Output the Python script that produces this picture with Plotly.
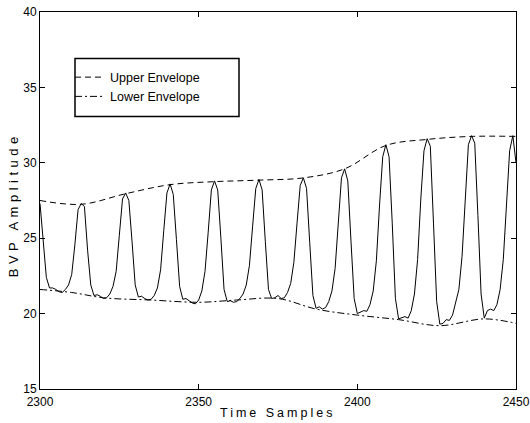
import plotly.graph_objects as go

# Sample indices and BVP signal values
samples = list(range(2300, 2451))
bvp = [
    27.3, 24.6, 22.4, 21.7, 21.7, 21.6, 21.45, 21.4, 21.6, 21.9,   # 2300-2309
    22.6, 24.6, 26.9, 27.3, 27.1, 24.2, 21.9, 21.2, 21.25, 21.15,  # 2310-2319
    21.0, 21.05, 21.3, 21.8, 22.8, 25.2, 27.6, 28.0, 27.5, 24.8,   # 2320-2329
    21.9, 21.1, 21.15, 21.0, 20.9, 20.95, 21.2, 21.7, 22.9, 25.5,  # 2330-2339
    28.0, 28.6, 27.9, 24.9, 21.8, 20.95, 21.0, 20.85, 20.7, 20.65, # 2340-2349
    20.9, 21.5, 22.8, 25.4, 28.2, 28.8, 28.2, 25.0, 21.6, 20.8,    # 2350-2359
    20.85, 20.75, 20.8, 21.0, 21.3, 21.9, 23.2, 25.8, 28.3, 28.9,  # 2360-2369
    28.2, 24.8, 21.6, 21.0, 21.05, 21.2, 21.0, 21.05, 21.4, 22.0,  # 2370-2379
    23.4, 26.0, 28.5, 29.0, 28.3, 24.7, 21.2, 20.35, 20.45, 20.3,  # 2380-2389
    20.4, 20.8, 21.5, 23.0, 26.0, 29.0, 29.6, 28.8, 24.8, 21.0,    # 2390-2399
    20.0, 20.1, 20.2, 20.15, 20.6, 21.5, 23.5, 27.2, 30.4, 31.2,   # 2400-2409
    30.4, 26.0, 21.0, 19.65, 19.7, 19.8, 19.7, 20.2, 21.3, 23.6,   # 2410-2419
    27.6, 30.8, 31.6, 31.1, 26.0, 20.8, 19.3, 19.35, 19.6, 19.55,  # 2420-2429
    19.9, 20.8, 21.6, 23.8, 28.0, 31.2, 31.8, 31.3, 26.5, 21.3,    # 2430-2439
    19.7, 20.2, 20.3, 20.2, 20.6, 21.6, 23.6, 27.4, 30.8, 31.8,    # 2440-2449
    30.0,                                                          # 2450
]

# Envelope knots
upper_x = [2300, 2313, 2327, 2341, 2355, 2369, 2383, 2396, 2409, 2422, 2436, 2450]
upper_y = [27.5, 27.25, 27.95, 28.55, 28.75, 28.85, 29.0, 29.6, 31.15, 31.55, 31.75, 31.75]
lower_x = [2300, 2310, 2320, 2335, 2350, 2362, 2375, 2387, 2400, 2413, 2426, 2440, 2450]
lower_y = [21.6, 21.4, 21.05, 20.9, 20.75, 20.9, 21.0, 20.3, 19.9, 19.6, 19.2, 19.65, 19.35]

x_ticks = [2300, 2350, 2400, 2450]
y_ticks = [15, 20, 25, 30, 35, 40]

FONT = "Liberation Sans, Arial, Helvetica, sans-serif"

# plot area in pixels: left 40, right 516, top 12, bottom 389
PW, PH = 476.0, 377.0

def px_x(p):
    return (p - 40) / PW

def px_y(p):
    return 1 - (p - 12) / PH

fig = go.Figure()
fig.add_trace(go.Scatter(x=samples, y=bvp, mode="lines",
                         line=dict(color="black", width=1), showlegend=False,
                         name="BVP"))
fig.add_trace(go.Scatter(x=upper_x, y=upper_y, mode="lines", name="Upper Envelope",
                         line=dict(color="black", width=1, dash="6px,4px",
                                   shape="spline", smoothing=1.0)))
fig.add_trace(go.Scatter(x=lower_x, y=lower_y, mode="lines", name="Lower Envelope",
                         line=dict(color="black", width=1, dash="7px,3px,2px,3px",
                                   shape="spline", smoothing=1.0)))

axis_common = dict(showgrid=False, zeroline=False, showline=True, linecolor="black",
                   linewidth=1, mirror="ticks", ticks="inside", ticklen=5,
                   tickcolor="black", automargin=False, ticklabeloverflow="allow",
                   tickfont=dict(family=FONT, size=12, color="black"))

fig.update_layout(
    width=530, height=423,
    margin=dict(l=40, r=14, t=12, b=34),
    paper_bgcolor="white", plot_bgcolor="white",
    font=dict(family=FONT, color="black"),
    xaxis=dict(range=[2300, 2450], tickvals=x_ticks, ticklabelstandoff=2, **axis_common),
    yaxis=dict(range=[15, 40], tickvals=y_ticks, **axis_common),
    legend=dict(x=px_x(70), y=px_y(62.5), xanchor="left", yanchor="top",
                borderwidth=0, bgcolor="rgba(0,0,0,0)",
                font=dict(family=FONT, size=12.5, color="black")),
    shapes=[
        dict(type="rect", xref="paper", yref="paper",
             x0=px_x(75), x1=px_x(239), y0=px_y(116.5), y1=px_y(58.5),
             line=dict(color="black", width=1.5), fillcolor="white", layer="below"),
    ],
    annotations=[
        dict(text="Time Samples", xref="paper", yref="paper", x=px_x(277), y=px_y(413),
             xanchor="center", yanchor="middle", showarrow=False,
             font=dict(family=FONT, size=12.5, color="black")),
        dict(text="BVP Amplitude", xref="paper", yref="paper", x=px_x(13), y=px_y(205),
             xanchor="center", yanchor="middle", textangle=-90, showarrow=False,
             font=dict(family=FONT, size=13, color="black")),
    ],
)

post = """
document.body.style.margin='0';document.body.style.padding='0';
var ann = document.querySelectorAll('g.annotation text');
ann.forEach(function(t){
  var s = t.textContent;
  if (s === 'Time Samples') { t.style.letterSpacing = '3px'; }
  if (s === 'BVP Amplitude') { t.style.letterSpacing = '4.5px'; }
});
"""

fig.write_html("out.html", post_script=post, config={"displayModeBar": False})
